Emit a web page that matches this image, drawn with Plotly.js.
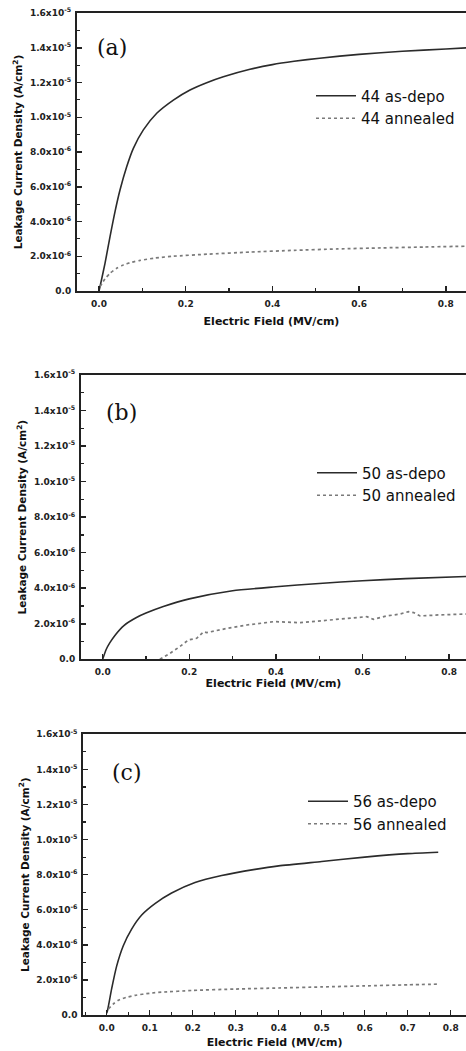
<!DOCTYPE html>
<html><head><meta charset="utf-8">
<script src="https://cdn.plot.ly/plotly-3.0.1.min.js"></script>
<style>html,body{margin:0;padding:0;background:#fff}#chart{width:466px;height:1051px}</style>
</head><body><div id="chart"></div>
<script>
// ---- data (Electric field in MV/cm, leakage current density in A/cm^2) ----
const fieldA_dep = [0, 0.0023, 0.0138, 0.0254, 0.0369, 0.0484, 0.0638, 0.0792, 0.1023, 0.1331, 0.1715, 0.2099, 0.2484, 0.2868, 0.3483, 0.4, 0.45, 0.509, 0.6, 0.7, 0.8, 0.85];
const curA_dep   = [0, 0.25e-6, 1.59e-6, 3.13e-6, 4.57e-6, 5.81e-6, 7.15e-6, 8.21e-6, 9.27e-6, 10.23e-6, 10.99e-6, 11.57e-6, 11.99e-6, 12.33e-6, 12.76e-6, 13.03e-6, 13.22e-6, 13.4e-6, 13.62e-6, 13.8e-6, 13.93e-6, 14.0e-6];
const fieldA_ann = [0.0023, 0.0138, 0.0254, 0.04, 0.056, 0.075, 0.0946, 0.13, 0.1715, 0.25, 0.348, 0.45, 0.55, 0.65, 0.75, 0.85];
const curA_ann   = [0.25e-6, 0.7e-6, 1.02e-6, 1.3e-6, 1.5e-6, 1.65e-6, 1.76e-6, 1.9e-6, 2.0e-6, 2.12e-6, 2.24e-6, 2.34e-6, 2.42e-6, 2.48e-6, 2.53e-6, 2.58e-6];

const fieldB_dep = [0, 0.008, 0.017, 0.03, 0.049, 0.078, 0.1, 0.14, 0.2, 0.3, 0.4, 0.5, 0.6, 0.7, 0.84];
const curB_dep   = [0, 0.55e-6, 0.95e-6, 1.4e-6, 1.9e-6, 2.35e-6, 2.6e-6, 2.97e-6, 3.4e-6, 3.86e-6, 4.08e-6, 4.27e-6, 4.42e-6, 4.54e-6, 4.66e-6];
const fieldB_ann = [0.132, 0.155, 0.178, 0.198, 0.217, 0.233, 0.24, 0.287, 0.333, 0.395, 0.456, 0.533, 0.571, 0.61, 0.625, 0.656, 0.687, 0.706, 0.718, 0.733, 0.779, 0.84];
const curB_ann   = [0, 0.33e-6, 0.71e-6, 1.09e-6, 1.18e-6, 1.55e-6, 1.5e-6, 1.74e-6, 1.93e-6, 2.12e-6, 2.06e-6, 2.25e-6, 2.31e-6, 2.4e-6, 2.25e-6, 2.44e-6, 2.55e-6, 2.68e-6, 2.63e-6, 2.44e-6, 2.5e-6, 2.55e-6];

const fieldC_dep = [0, 0.0023, 0.0116, 0.0233, 0.0386, 0.058, 0.0814, 0.1123, 0.151, 0.2054, 0.2674, 0.345, 0.4, 0.5, 0.6, 0.7, 0.771];
const curC_dep   = [0.1e-6, 0.3e-6, 1.5e-6, 2.8e-6, 3.95e-6, 4.9e-6, 5.7e-6, 6.35e-6, 6.95e-6, 7.55e-6, 7.95e-6, 8.3e-6, 8.5e-6, 8.75e-6, 9.0e-6, 9.2e-6, 9.28e-6];
const fieldC_ann = [0.004, 0.015, 0.027, 0.045, 0.066, 0.1, 0.128, 0.2, 0.3, 0.4, 0.5, 0.6, 0.7, 0.775];
const curC_ann   = [0.35e-6, 0.62e-6, 0.84e-6, 1.0e-6, 1.12e-6, 1.24e-6, 1.3e-6, 1.4e-6, 1.48e-6, 1.54e-6, 1.6e-6, 1.66e-6, 1.72e-6, 1.76e-6];

const yTickVals = [0, 2e-6, 4e-6, 6e-6, 8e-6, 1.0e-5, 1.2e-5, 1.4e-5, 1.6e-5];
const yTickText = ['0.0', '2.0x10<sup>-6</sup>', '4.0x10<sup>-6</sup>', '6.0x10<sup>-6</sup>', '8.0x10<sup>-6</sup>',
                   '1.0x10<sup>-5</sup>', '1.2x10<sup>-5</sup>', '1.4x10<sup>-5</sup>', '1.6x10<sup>-5</sup>'];
const xTickValsAB = [0, 0.2, 0.4, 0.6, 0.8];
const xTickTextAB = ['0.0', '0.2', '0.4', '0.6', '0.8'];
const xTickValsC = [0, 0.1, 0.2, 0.3, 0.4, 0.5, 0.6, 0.7, 0.8];
const xTickTextC = ['0.0', '0.1', '0.2', '0.3', '0.4', '0.5', '0.6', '0.7', '0.8'];

const seriesNames = [['44 as-depo', '44 annealed'], ['50 as-depo', '50 annealed'], ['56 as-depo', '56 annealed']];
const panelLabels = ['(a)', '(b)', '(c)'];
const xTitle = 'Electric Field (MV/cm)';
const yTitle = 'Leakage Current Density (A/cm<sup>2</sup>)';

// ---- styling ----
const W = 466, H = 1051;
const px = v => v / W, py = v => 1 - v / H;
const solid = {color: '#2b2b2b', width: 1.6, shape: 'spline', smoothing: 0.6};
const dotted = {color: '#7a7a7a', width: 1.7, dash: 'dot', shape: 'spline', smoothing: 0.6};
const dottedNoisy = {color: '#7a7a7a', width: 1.7, dash: 'dot'};
const tickFont = {family: 'DejaVu Sans', size: 9, color: '#222', weight: 'bold'};
const titleFont = {family: 'DejaVu Sans', size: 11, color: '#111', weight: 'bold'};
const legFont = {family: 'DejaVu Sans', size: 15, color: '#111'};

const data = [
  {x: fieldA_dep, y: curA_dep, xaxis: 'x', yaxis: 'y', name: seriesNames[0][0], mode: 'lines', line: solid, legend: 'legend'},
  {x: fieldA_ann, y: curA_ann, xaxis: 'x', yaxis: 'y', name: seriesNames[0][1], mode: 'lines', line: dotted, legend: 'legend'},
  {x: fieldB_dep, y: curB_dep, xaxis: 'x2', yaxis: 'y2', name: seriesNames[1][0], mode: 'lines', line: solid, legend: 'legend2'},
  {x: fieldB_ann, y: curB_ann, xaxis: 'x2', yaxis: 'y2', name: seriesNames[1][1], mode: 'lines', line: dottedNoisy, legend: 'legend2'},
  {x: fieldC_dep, y: curC_dep, xaxis: 'x3', yaxis: 'y3', name: seriesNames[2][0], mode: 'lines', line: solid, legend: 'legend3'},
  {x: fieldC_ann, y: curC_ann, xaxis: 'x3', yaxis: 'y3', name: seriesNames[2][1], mode: 'lines', line: dotted, legend: 'legend3'}
];

function xAxis(left, range, tv, tt, minorD, anchor, standoff) {
  return {domain: [px(left), 1], range: range, anchor: anchor, tickmode: 'array', tickvals: tv, ticktext: tt,
    showgrid: false, zeroline: false, showline: true, linewidth: 2, linecolor: '#222', mirror: true,
    ticks: 'inside', ticklen: 5, tickwidth: 1.5, tickcolor: '#222', tickfont: tickFont, ticklabelstandoff: 3,
    minor: {ticks: 'inside', ticklen: 3, tickwidth: 1.2, tickcolor: '#222', tickmode: 'linear', tick0: 0, dtick: minorD},
    title: {text: xTitle, font: titleFont, standoff: standoff}, automargin: false, fixedrange: true};
}
function yAxis(top, bottom, anchor, standoff) {
  return {domain: [py(bottom), py(top)], range: [0, 1.6e-5], anchor: anchor, tickmode: 'array', tickvals: yTickVals, ticktext: yTickText,
    showgrid: false, zeroline: false, showline: true, linewidth: 2, linecolor: '#222', mirror: false,
    ticks: 'inside', ticklen: 4.5, tickwidth: 1.5, tickcolor: '#222', tickfont: tickFont, ticklabelstandoff: 2,
    minor: {ticks: 'inside', ticklen: 3, tickwidth: 1.2, tickcolor: '#222', tickmode: 'linear', tick0: 0, dtick: 1e-6},
    title: {text: yTitle, font: {family: 'DejaVu Sans', size: 10.5, color: '#111', weight: 'bold'}, standoff: standoff},
    automargin: false, fixedrange: true};
}
function legend(xLine, yMid) {
  return {x: px(xLine), y: py(yMid), xanchor: 'left', yanchor: 'middle', bgcolor: 'rgba(0,0,0,0)', borderwidth: 0,
    font: legFont, itemwidth: 40, tracegroupgap: 0};
}

const layout = {
  width: W, height: H, margin: {l: 0, r: 0, t: 0, b: 0}, paper_bgcolor: '#fff', plot_bgcolor: '#fff',
  showlegend: true,
  xaxis: xAxis(77, [-0.0508, 0.8466], xTickValsAB, xTickTextAB, 0.1, 'y', 10),
  yaxis: yAxis(13, 291, 'x', 5),
  xaxis2: xAxis(81, [-0.0501, 0.839], xTickValsAB, xTickTextAB, 0.1, 'y2', 1),
  yaxis2: yAxis(375, 659.3, 'x2', 5),
  xaxis3: xAxis(83.3, [-0.0544, 0.8356], xTickValsC, xTickTextC, 0.05, 'y3', 7),
  yaxis3: yAxis(734.3, 1015, 'x3', 5),
  legend: legend(311, 107),
  legend2: legend(312, 484),
  legend3: legend(303, 812.5),
  annotations: panelLabels.map((t, i) => ({
    text: t, xref: 'paper', yref: 'paper', x: px([112, 121.5, 126.5][i]), y: py([47, 412, 772][i]),
    xanchor: 'center', yanchor: 'middle', showarrow: false,
    font: {family: 'DejaVu Serif', size: 22, color: '#111'}
  }))
};

Plotly.newPlot('chart', data, layout, {staticPlot: true, displayModeBar: false});
</script></body></html>
